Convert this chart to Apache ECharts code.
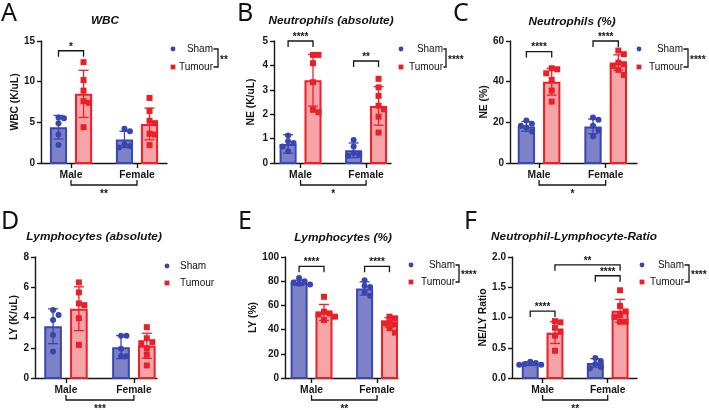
<!DOCTYPE html>
<html><head><meta charset="utf-8">
<script src="https://cdn.jsdelivr.net/npm/echarts@6/dist/echarts.min.js"></script>
<style>html,body{margin:0;padding:0;background:#fff}#c{width:709px;height:410px}</style>
</head><body><div id="c"></div>
<script>
// ================= DATA =================
const groups = ['Male', 'Female'];
const seriesNames = ['Sham', 'Tumour'];

// A — WBC
const wbcTicks = [0, 5, 10, 15];
const wbcTickLabels = ['0', '5', '10', '15'];
const wbcShamMean = [4.4, 2.9];
const wbcShamSD = [1.45, 1.0];
const wbcTumourMean = [8.5, 4.8];
const wbcTumourSD = [2.9, 1.95];
const wbcShamPts = [[5.6, 5.5, 4.9, 3.5, 2.2], [4.2, 3.9, 2.3, 2.1, 1.9]];
const wbcTumourPts = [[12.4, 10.2, 8.9, 7.6, 7.4, 4.4], [8.0, 6.4, 5.2, 4.9, 3.6, 3.5, 2.2]];
const wbcPairSig = [['Male', 'Sham', 'Male', 'Tumour', 13.8, '*']];
const wbcSexSig = '**';
const wbcGroupSig = '**';

// B — Neutrophils (absolute)
const neAbsTicks = [0, 1, 2, 3, 4, 5];
const neAbsTickLabels = ['0', '1', '2', '3', '4', '5'];
const neAbsShamMean = [0.78, 0.52];
const neAbsShamSD = [0.38, 0.30];
const neAbsTumourMean = [3.39, 2.34];
const neAbsTumourSD = [1.06, 0.79];
const neAbsShamPts = [[1.13, 0.89, 0.82, 0.68, 0.48], [0.94, 0.68, 0.41, 0.34, 0.30]];
const neAbsTumourPts = [[4.43, 4.43, 4.09, 3.31, 2.18, 2.08], [3.45, 3.1, 2.75, 2.35, 2.2, 1.9, 1.25]];
const neAbsPairSig = [['Male', 'Sham', 'Male', 'Tumour', 5.0, '****'], ['Female', 'Sham', 'Female', 'Tumour', 4.18, '**']];
const neAbsSexSig = '*';
const neAbsGroupSig = '****';

// C — Neutrophils (%)
const nePctTicks = [0, 20, 40, 60];
const nePctTickLabels = ['0', '20', '40', '60'];
const nePctShamMean = [18.0, 18.0];
const nePctShamSD = [2.4, 3.6];
const nePctTumourMean = [40.0, 49.4];
const nePctTumourSD = [6.6, 3.8];
const nePctShamPts = [[20.9, 19.3, 18.3, 17.5, 15.5], [22.4, 21.3, 18.3, 16.0, 13.1]];
const nePctTumourPts = [[46.6, 46.1, 44.1, 40.9, 35.6, 30.2], [55.3, 53.5, 49.4, 48.6, 47.7, 45.8, 43.3]];
const nePctPairSig = [['Male', 'Sham', 'Male', 'Tumour', 54.8, '****'], ['Female', 'Sham', 'Female', 'Tumour', 60, '****']];
const nePctSexSig = '*';
const nePctGroupSig = '****';

// D — Lymphocytes (absolute)
const lyAbsTicks = [0, 2, 4, 6, 8];
const lyAbsTickLabels = ['0', '2', '4', '6', '8'];
const lyAbsShamMean = [3.42, 2.04];
const lyAbsShamSD = [1.15, 0.76];
const lyAbsTumourMean = [4.58, 2.13];
const lyAbsTumourSD = [1.45, 0.83];
const lyAbsShamPts = [[4.5, 4.17, 3.84, 2.85, 1.75], [2.8, 2.8, 1.93, 1.45, 1.43]];
const lyAbsTumourPts = [[6.32, 5.66, 4.93, 4.82, 3.95, 2.19], [3.36, 2.63, 2.37, 2.3, 1.97, 1.54, 0.83]];
const lyAbsPairSig = [];
const lyAbsSexSig = '***';
const lyAbsGroupSig = '';

// E — Lymphocytes (%)
const lyPctTicks = [0, 20, 40, 60, 80, 100];
const lyPctTickLabels = ['0', '20', '40', '60', '80', '100'];
const lyPctShamMean = [78.6, 74.0];
const lyPctShamSD = [2.2, 5.5];
const lyPctTumourMean = [54.2, 46.0];
const lyPctTumourSD = [6.6, 3.9];
const lyPctShamPts = [[82.7, 80.0, 78.9, 78.1, 77.3], [80.8, 76.2, 75.3, 70.7, 67.9]];
const lyPctTumourPts = [[67.1, 54.8, 53.4, 52.6, 50.7, 47.9], [50.7, 49.3, 46.0, 45.2, 44.4, 41.1, 37.5]];
const lyPctPairSig = [['Male', 'Sham', 'Male', 'Tumour', 92.3, '****'], ['Female', 'Sham', 'Female', 'Tumour', 92.3, '****']];
const lyPctSexSig = '**';
const lyPctGroupSig = '****';

// F — Neutrophil-Lymphocyte-Ratio
const nlrTicks = [0, 0.5, 1.0, 1.5, 2.0];
const nlrTickLabels = ['0.0', '0.5', '1.0', '1.5', '2.0'];
const nlrShamMean = [0.236, 0.25];
const nlrShamSD = [0.03, 0.07];
const nlrTumourMean = [0.75, 1.11];
const nlrTumourSD = [0.18, 0.19];
const nlrShamPts = [[0.27, 0.25, 0.23, 0.22, 0.22], [0.33, 0.28, 0.23, 0.18, 0.16]];
const nlrTumourPts = [[0.94, 0.92, 0.83, 0.77, 0.70, 0.45], [1.45, 1.19, 1.10, 1.04, 1.01, 0.93, 0.93]];
const nlrPairSig = [['Male', 'Sham', 'Male', 'Tumour', 1.107, '****'], ['Female', 'Sham', 'Female', 'Tumour', 1.69, '****'], ['Male', 'Tumour', 'Female', 'Tumour', 1.87, '**']];
const nlrSexSig = '**';
const nlrGroupSig = '****';

// ================= ASSEMBLY =================
const panelData = [
  {ticks: wbcTicks, labels: wbcTickLabels, mean: {Sham: wbcShamMean, Tumour: wbcTumourMean}, sd: {Sham: wbcShamSD, Tumour: wbcTumourSD}, pts: {Sham: wbcShamPts, Tumour: wbcTumourPts}, pairs: wbcPairSig, sex: wbcSexSig, grp: wbcGroupSig},
  {ticks: neAbsTicks, labels: neAbsTickLabels, mean: {Sham: neAbsShamMean, Tumour: neAbsTumourMean}, sd: {Sham: neAbsShamSD, Tumour: neAbsTumourSD}, pts: {Sham: neAbsShamPts, Tumour: neAbsTumourPts}, pairs: neAbsPairSig, sex: neAbsSexSig, grp: neAbsGroupSig},
  {ticks: nePctTicks, labels: nePctTickLabels, mean: {Sham: nePctShamMean, Tumour: nePctTumourMean}, sd: {Sham: nePctShamSD, Tumour: nePctTumourSD}, pts: {Sham: nePctShamPts, Tumour: nePctTumourPts}, pairs: nePctPairSig, sex: nePctSexSig, grp: nePctGroupSig},
  {ticks: lyAbsTicks, labels: lyAbsTickLabels, mean: {Sham: lyAbsShamMean, Tumour: lyAbsTumourMean}, sd: {Sham: lyAbsShamSD, Tumour: lyAbsTumourSD}, pts: {Sham: lyAbsShamPts, Tumour: lyAbsTumourPts}, pairs: lyAbsPairSig, sex: lyAbsSexSig, grp: lyAbsGroupSig},
  {ticks: lyPctTicks, labels: lyPctTickLabels, mean: {Sham: lyPctShamMean, Tumour: lyPctTumourMean}, sd: {Sham: lyPctShamSD, Tumour: lyPctTumourSD}, pts: {Sham: lyPctShamPts, Tumour: lyPctTumourPts}, pairs: lyPctPairSig, sex: lyPctSexSig, grp: lyPctGroupSig},
  {ticks: nlrTicks, labels: nlrTickLabels, mean: {Sham: nlrShamMean, Tumour: nlrTumourMean}, sd: {Sham: nlrShamSD, Tumour: nlrTumourSD}, pts: {Sham: nlrShamPts, Tumour: nlrTumourPts}, pairs: nlrPairSig, sex: nlrSexSig, grp: nlrGroupSig}
];

// layout & style (not data)
const layouts = [
  {letter: 'A', lx: 1, ly: 14, grid: [41, 41, 126, 122], xr: [0.045, 1.955], nameGap: 18, title: 'WBC', tx: 105, ty: 21, yName: 'WBC (K/uL)', lg: {dot: 173, y: [49, 67], right: 213, br: 218}},
  {letter: 'B', lx: 237, ly: 14, grid: [274, 41, 117, 122], xr: [0.095, 1.88], nameGap: 18, title: 'Neutrophils (absolute)', tx: 331, ty: 21, yName: 'NE (K/uL)', lg: {dot: 401, y: [49, 67], right: 443, br: 446}},
  {letter: 'C', lx: 453, ly: 14, grid: [510, 41, 127, 122], xr: [0.064, 1.97], nameGap: 19, title: 'Neutrophils (%)', tx: 572, ty: 22, yName: 'NE (%)', lg: {dot: 639, y: [49, 67], right: 683, br: 688}},
  {letter: 'D', lx: 1, ly: 222, grid: [35, 257, 122, 121], xr: [0.044, 1.84], nameGap: 14, title: 'Lymphocytes (absolute)', tx: 94, ty: 237, yName: 'LY (K/uL)', lg: {dot: 167, y: [266, 283], left: 180}},
  {letter: 'E', lx: 238, ly: 222, grid: [285, 257, 113, 121], xr: [0.095, 1.82], nameGap: 13, title: 'Lymphocytes (%)', tx: 343, ty: 238, yName: 'LY (%)', lg: {dot: 411, y: [265, 282], right: 455, br: 459}},
  {letter: 'F', lx: 464, ly: 222, grid: [512, 257, 125, 121], xr: [0.03, 1.95], nameGap: 19, title: 'Neutrophil-Lymphocyte-Ratio', tx: 574, ty: 237, yName: 'NE/LY Ratio', lg: {dot: 642, y: [265, 282], right: 684, br: 689}}
];

const FONT = '"Liberation Sans", Arial, Helvetica, sans-serif';
const INK = '#161616';
const COL = {
  Sham: {fill: '#7d81c5', line: '#3a46b2', pt: '#3845b0', symbol: 'circle', size: 6},
  Tumour: {fill: '#f5a5a8', line: '#ee1f28', pt: '#ea1f28', symbol: 'rect', size: 6}
};
const BAR_OFF = 0.19, BAR_HALF = 0.13, PT_STEP = 5.5;

function barX(g, s) { return groups.indexOf(g) + 0.5 + (s === 'Sham' ? -BAR_OFF : BAR_OFF); }

function jitterSlots(values, thr) {
  const order = values.map((v, i) => i).sort((a, b) => values[b] - values[a]);
  const placed = [];
  const slots = new Array(values.length).fill(0);
  const cand = [0, 1, -1, 2, -2, 3, -3];
  order.forEach(i => {
    const v = values[i];
    for (const c of cand) {
      if (!placed.some(p => p.slot === c && Math.abs(p.v - v) < thr)) { slots[i] = c; placed.push({v: v, slot: c}); break; }
    }
  });
  return slots;
}

const option = {animation: false, backgroundColor: '#ffffff', grid: [], xAxis: [], yAxis: [], series: [], graphic: []};

panelData.forEach((pd, i) => {
  const L = layouts[i];
  const [gl, gt, gw, gh] = L.grid;
  const yMin = pd.ticks[0], yMax = pd.ticks[pd.ticks.length - 1], yInt = pd.ticks[1] - pd.ticks[0];
  option.grid.push({left: gl, top: gt, width: gw, height: gh});
  option.xAxis.push({
    gridIndex: i, type: 'value', min: L.xr[0], max: L.xr[1],
    axisLine: {show: true, onZero: false, lineStyle: {color: INK, width: 1.4}},
    axisTick: {show: true, customValues: [0.5, 1.5], length: 5, lineStyle: {color: INK, width: 1.4}},
    axisLabel: {show: true, customValues: [0.5, 1.5], formatter: v => groups[Math.round(v - 0.5)], fontFamily: FONT, fontSize: 10.3, fontWeight: 'bold', color: INK, margin: 7},
    splitLine: {show: false}
  });
  option.yAxis.push({
    gridIndex: i, type: 'value', min: yMin, max: yMax, interval: yInt,
    axisLine: {show: true, onZero: false, lineStyle: {color: INK, width: 1.4}},
    axisTick: {show: true, length: 4, lineStyle: {color: INK, width: 1.4}},
    axisLabel: {fontFamily: FONT, fontSize: 10, fontWeight: 'bold', color: INK, margin: 6,
      formatter: v => pd.labels[Math.round((v - yMin) / yInt)]},
    splitLine: {show: false},
    name: L.yName, nameLocation: 'middle', nameGap: L.nameGap,
    nameTextStyle: {fontFamily: FONT, fontSize: 10.3, fontWeight: 'bold', color: INK}
  });

  const thr = (yMax - yMin) * 5.5 / gh;

  seriesNames.forEach(s => {
    const c = COL[s];
    option.series.push({
      type: 'custom', name: s, xAxisIndex: i, yAxisIndex: i, silent: true, clip: false, z: 2,
      data: groups.map((g, gi) => [barX(g, s), pd.mean[s][gi], pd.sd[s][gi]]),
      encode: {x: 0, y: 1},
      renderItem: (params, api) => {
        const x = api.value(0), m = api.value(1), sd = api.value(2);
        const p0 = api.coord([x - BAR_HALF, m]);
        const p1 = api.coord([x + BAR_HALF, 0]);
        const cx = api.coord([x, m])[0];
        const top = api.coord([x, m + sd])[1];
        const bot = api.coord([x, Math.max(0, m - sd)])[1];
        const cap = 5;
        const ls = {stroke: c.line, lineWidth: 1.3};
        return {type: 'group', children: [
          {type: 'rect', shape: {x: p0[0] + 1, y: p0[1] + 1, width: p1[0] - p0[0] - 2, height: p1[1] - p0[1] - 1}, style: {fill: c.fill, stroke: c.line, lineWidth: 2}},
          {type: 'line', shape: {x1: cx, y1: top, x2: cx, y2: bot}, style: ls},
          {type: 'line', shape: {x1: cx - cap, y1: top, x2: cx + cap, y2: top}, style: ls},
          {type: 'line', shape: {x1: cx - cap, y1: bot, x2: cx + cap, y2: bot}, style: ls}
        ]};
      }
    });
  });
  seriesNames.forEach(s => {
    const c = COL[s];
    const data = [];
    groups.forEach((g, gi) => {
      const vals = pd.pts[s][gi];
      const slots = jitterSlots(vals, thr);
      vals.forEach((v, k) => data.push({value: [barX(g, s), v], symbolOffset: [slots[k] * PT_STEP, 0]}));
    });
    option.series.push({
      type: 'scatter', name: s, xAxisIndex: i, yAxisIndex: i, silent: true, z: 4,
      symbol: c.symbol, symbolSize: c.size, itemStyle: {color: c.pt, opacity: 1}, data: data
    });
  });

  const pairs = pd.pairs.map(p => ({x1: barX(p[0], p[1]), x2: barX(p[2], p[3]), level: p[4], label: p[5]}));
  if (pairs.length) {
    option.series.push({
      type: 'custom', xAxisIndex: i, yAxisIndex: i, silent: true, clip: false, z: 6,
      data: pairs.map(b => [b.x1, b.x2, b.level]), encode: {x: [0, 1], y: 2},
      renderItem: (params, api) => {
        const b = pairs[params.dataIndex];
        const a1 = api.coord([api.value(0), api.value(2)]);
        const a2 = api.coord([api.value(1), api.value(2)]);
        const y = a1[1];
        return {type: 'group', children: [
          {type: 'polyline', shape: {points: [[a1[0], y + 6], [a1[0], y], [a2[0], y], [a2[0], y + 6]]}, style: {stroke: INK, lineWidth: 1.3, fill: null}},
          {type: 'text', style: {text: b.label, x: (a1[0] + a2[0]) / 2, y: y - 4, align: 'center', verticalAlign: 'middle', font: 'bold 10px ' + FONT, fill: INK}}
        ]};
      }
    });
  }
  if (pd.sex) {
    option.series.push({
      type: 'custom', xAxisIndex: i, yAxisIndex: i, silent: true, clip: false, z: 6,
      data: [[0.5, 1.5, yMin]], encode: {x: [0, 1], y: 2},
      renderItem: (params, api) => {
        const a1 = api.coord([api.value(0), api.value(2)]);
        const a2 = api.coord([api.value(1), api.value(2)]);
        const y = a1[1] + 22;
        return {type: 'group', children: [
          {type: 'polyline', shape: {points: [[a1[0], y - 5], [a1[0], y], [a2[0], y], [a2[0], y - 5]]}, style: {stroke: INK, lineWidth: 1.3, fill: null}},
          {type: 'text', style: {text: pd.sex, x: (a1[0] + a2[0]) / 2, y: y + 9, align: 'center', verticalAlign: 'middle', font: 'bold 10px ' + FONT, fill: INK}}
        ]};
      }
    });
  }

  option.graphic.push({type: 'text', x: L.lx, y: L.ly, silent: true, style: {text: L.letter, font: '25px "Noto Sans", "Open Sans", sans-serif', fill: '#111', align: 'left', verticalAlign: 'middle'}});
  option.graphic.push({type: 'text', x: L.tx, y: L.ty, silent: true, style: {text: L.title, font: 'italic bold 11.8px ' + FONT, fill: '#111', align: 'center', verticalAlign: 'middle'}});

  const lg = L.lg;
  option.graphic.push({type: 'circle', silent: true, shape: {cx: lg.dot, cy: lg.y[0], r: 2.4}, style: {fill: COL.Sham.pt}});
  option.graphic.push({type: 'rect', silent: true, shape: {x: lg.dot - 2.4, y: lg.y[1] - 2.4, width: 4.8, height: 4.8}, style: {fill: COL.Tumour.pt}});
  seriesNames.forEach((s, k) => {
    option.graphic.push({type: 'text', silent: true, x: lg.right !== undefined ? lg.right : lg.left, y: lg.y[k],
      style: {text: s, font: '10px ' + FONT, fill: '#111', align: lg.right !== undefined ? 'right' : 'left', verticalAlign: 'middle'}});
  });
  if (pd.grp) {
    option.graphic.push({type: 'polyline', silent: true, shape: {points: [[lg.right + 0.5, lg.y[0]], [lg.br, lg.y[0]], [lg.br, lg.y[1]], [lg.right + 0.5, lg.y[1]]]}, style: {stroke: INK, lineWidth: 1.3, fill: null}});
    option.graphic.push({type: 'text', silent: true, x: lg.br + 2, y: (lg.y[0] + lg.y[1]) / 2 + 2,
      style: {text: pd.grp, font: 'bold 10px ' + FONT, fill: INK, align: 'left', verticalAlign: 'middle'}});
  }
});

const chart = echarts.init(document.getElementById('c'), null, {renderer: 'canvas'});
chart.setOption(option);
</script>
</body></html>
